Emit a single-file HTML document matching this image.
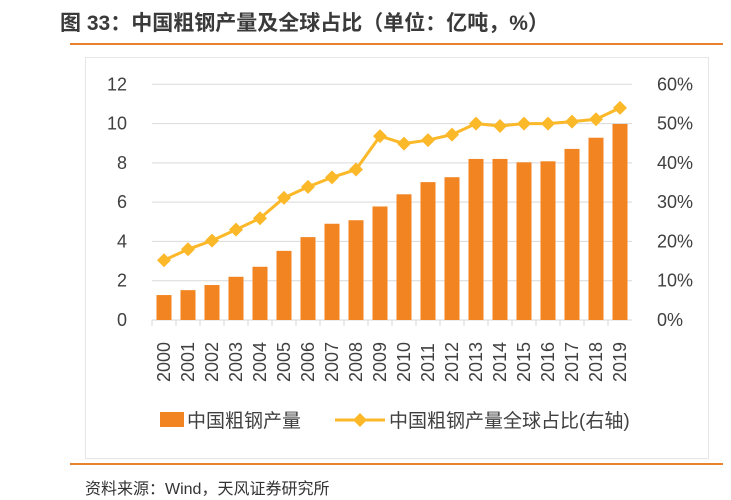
<!DOCTYPE html>
<html><head><meta charset="utf-8"><style>
body{margin:0;width:731px;height:500px;background:#fff;overflow:hidden;font-family:"Liberation Sans","Noto Sans CJK SC",sans-serif;}
.t{position:absolute;left:60px;top:7px;font-size:21px;font-weight:bold;color:#3a3a3a;}
.rule{position:absolute;left:70px;width:653px;height:2px;background:#e8822f;}
.src{position:absolute;left:85px;top:475px;font-size:16px;color:#333;}
.box{position:absolute;left:85px;top:57px;width:622px;height:400px;border:1px solid #e6e6e6;}
</style></head><body>
<div class="t">图 33：中国粗钢产量及全球占比（单位：亿吨，%）</div>
<div class="rule" style="top:43px"></div>
<div class="box"></div>
<svg id="c" width="731" height="500" style="position:absolute;left:0;top:0"></svg>
<div class="rule" style="top:463px"></div>
<div class="src">资料来源：Wind，天风证券研究所</div>
<script>
const years=["2000","2001","2002","2003","2004","2005","2006","2007","2008","2009","2010","2011","2012","2013","2014","2015","2016","2017","2018","2019"];
const output=[1.27,1.52,1.78,2.2,2.71,3.52,4.22,4.9,5.08,5.78,6.4,7.02,7.27,8.2,8.2,8.03,8.08,8.71,9.28,9.98];
const share=[15.2,18.0,20.2,23.0,25.9,31.1,33.9,36.3,38.3,46.8,44.9,45.8,47.2,50.0,49.4,50.0,50.0,50.5,51.1,54.0];
const leftTicks=[0,2,4,6,8,10,12];
const rightTicks=["0%","10%","20%","30%","40%","50%","60%"];
const NS="http://www.w3.org/2000/svg",svg=document.getElementById('c');
const x0=152,x1=632,yb=320,yt=84.3;
const bw=(x1-x0)/years.length;
const yL=v=>yb-(v/12)*(yb-yt), yR=v=>yb-(v/60)*(yb-yt), xc=i=>x0+bw*(i+0.5);
function mk(t,a,txt){const e=document.createElementNS(NS,t);for(const k in a)e.setAttribute(k,a[k]);if(txt!=null)e.textContent=txt;svg.appendChild(e);return e;}
leftTicks.forEach((v,i)=>{
 if(v>0){const g=mk('line',{x1:x0,x2:x1,y1:yL(v),y2:yL(v),stroke:'#d9d9d9','stroke-width':1});
 
 }
 const l=mk('text',{x:127,y:yL(v)+6,'text-anchor':'end','font-size':18,fill:'#404040'},v);
 
 
 const r=mk('text',{x:657,y:yL(v)+6,'font-size':18,fill:'#404040'},rightTicks[i]);
 
 
});
const ax=mk('line',{x1:x0,x2:x1,y1:yb,y2:yb,stroke:'#d9d9d9','stroke-width':1});


years.forEach((y,i)=>{
 const tk=mk('line',{x1:x0+bw*i,x2:x0+bw*i,y1:yb,y2:yb+6,stroke:'#d9d9d9'});
 
 
 const b=mk('rect',{x:xc(i)-7.5,y:yL(output[i]),width:15,height:yb-yL(output[i]),fill:'#f28522'});
 
 
 const t=mk('text',{x:0,y:0,'font-size':18,fill:'#404040',transform:`translate(${xc(i)+6},${yb+62}) rotate(-90)`},y);
 
 
});
const pl=mk('polyline',{points:share.map((v,i)=>xc(i)+','+yR(v)).join(' '),fill:'none',stroke:'#fbb829','stroke-width':3});


share.forEach((v,i)=>{const cx=xc(i),cy=yR(v);
 const d=mk('polygon',{points:`${cx},${cy-7} ${cx+7},${cy} ${cx},${cy+7} ${cx-7},${cy}`,fill:'#fbb829'});
 
 });
const lb=mk('rect',{x:160,y:412,width:24,height:15,fill:'#f28522'});


const lt=mk('text',{x:187,y:427,'font-size':19,fill:'#404040'},'中国粗钢产量');


const ll=mk('line',{x1:335,x2:385,y1:420,y2:420,stroke:'#fbb829','stroke-width':3});


const ld=mk('polygon',{points:'360,413 367,420 360,427 353,420',fill:'#fbb829'});


const lt2=mk('text',{x:389,y:427,'font-size':19,fill:'#404040'},'中国粗钢产量全球占比(右轴)');


</script>
</body></html>
